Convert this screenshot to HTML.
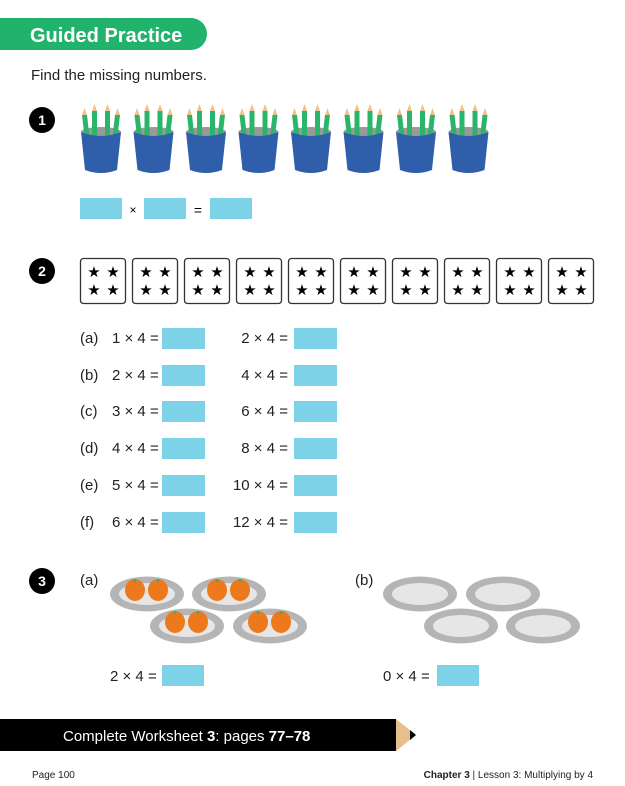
<!DOCTYPE html>
<html><head><meta charset="utf-8"><style>
body{margin:0;background:#fff;}
svg{display:block;font-family:"Liberation Sans",sans-serif;}
</style></head><body>
<svg width="625" height="786" viewBox="0 0 625 786" xmlns="http://www.w3.org/2000/svg">
<defs>
<g id="cup">
  <ellipse cx="21" cy="25" rx="20" ry="5" fill="#999"/>
  <g fill="#2bb56a">
    <polygon points="2,8 7,8 10,34 5,34"/>
    <polygon points="12,4 17,4 17,34 12,34"/>
    <polygon points="25,4 30,4 30,34 25,34"/>
    <polygon points="35,8 40,8 37,34 32,34"/>
  </g>
  <g fill="#f0c08a">
    <polygon points="2,8 7,8 4.5,1"/><polygon points="12,4 17,4 14.5,-3"/>
    <polygon points="25,4 30,4 27.5,-3"/><polygon points="35,8 40,8 37.5,1"/>
  </g>
  <path d="M1,25 Q21,33 41,25 L37,63 Q21,69 5,63 Z" fill="#2f5eab"/>
</g>
<g id="card">
  <rect x="0.5" y="0.5" width="45" height="45" rx="3" fill="#fff" stroke="#333" stroke-width="1.3"/>
  <g fill="#000" font-size="15" text-anchor="middle">
    <text x="14" y="19">★</text><text x="33" y="19">★</text>
    <text x="14" y="37">★</text><text x="33" y="37">★</text>
  </g>
</g>
<g id="plate">
  <ellipse cx="37" cy="17" rx="37" ry="17.5" fill="#b5b5b5"/>
  <ellipse cx="37" cy="17" rx="28" ry="11" fill="#e6e6e6"/>
</g>
<g id="oranges">
  <ellipse cx="25" cy="13" rx="10" ry="11" fill="#ec7a1c"/>
  <ellipse cx="48" cy="13" rx="10" ry="11" fill="#ec7a1c"/>
  <circle cx="25" cy="3.5" r="1.5" fill="#2bb56a"/><circle cx="48" cy="3.5" r="1.5" fill="#2bb56a"/>
</g>
</defs>

<path d="M0,18 H191 A16,16 0 0 1 191,50 H0 Z" fill="#21b36b"/>
<text x="30" y="42" fill="#fff" font-size="20" font-weight="bold">Guided Practice</text>
<text x="31" y="80" font-size="15" fill="#222">Find the missing numbers.</text>

<g fill="#000"><circle cx="42" cy="120" r="13"/><circle cx="42" cy="271" r="13"/><circle cx="42" cy="581" r="13"/></g>
<g fill="#fff" font-size="14" font-weight="bold" text-anchor="middle">
<text x="42" y="125">1</text><text x="42" y="276">2</text><text x="42" y="586">3</text></g>

<use href="#cup" x="80" y="107"/><use href="#cup" x="132.5" y="107"/><use href="#cup" x="185" y="107"/><use href="#cup" x="237.5" y="107"/>
<use href="#cup" x="290" y="107"/><use href="#cup" x="342.5" y="107"/><use href="#cup" x="395" y="107"/><use href="#cup" x="447.5" y="107"/>

<g fill="#7dd2e8">
<rect x="80" y="198" width="42" height="21"/><rect x="144" y="198" width="42" height="21"/><rect x="210" y="198" width="42" height="21"/>
</g>
<text x="133" y="214" font-size="12" text-anchor="middle">×</text>
<text x="198" y="215" font-size="14" text-anchor="middle">=</text>

<use href="#card" x="80" y="258"/><use href="#card" x="132" y="258"/><use href="#card" x="184" y="258"/><use href="#card" x="236" y="258"/><use href="#card" x="288" y="258"/>
<use href="#card" x="340" y="258"/><use href="#card" x="392" y="258"/><use href="#card" x="444" y="258"/><use href="#card" x="496" y="258"/><use href="#card" x="548" y="258"/>

<g font-size="15" fill="#222">
<text x="80" y="343">(a)</text><text x="112" y="343">1 × 4 =</text><text x="288" y="343" text-anchor="end">2 × 4 =</text>
<text x="80" y="380">(b)</text><text x="112" y="380">2 × 4 =</text><text x="288" y="380" text-anchor="end">4 × 4 =</text>
<text x="80" y="416">(c)</text><text x="112" y="416">3 × 4 =</text><text x="288" y="416" text-anchor="end">6 × 4 =</text>
<text x="80" y="453">(d)</text><text x="112" y="453">4 × 4 =</text><text x="288" y="453" text-anchor="end">8 × 4 =</text>
<text x="80" y="490">(e)</text><text x="112" y="490">5 × 4 =</text><text x="288" y="490" text-anchor="end">10 × 4 =</text>
<text x="80" y="527">(f)</text><text x="112" y="527">6 × 4 =</text><text x="288" y="527" text-anchor="end">12 × 4 =</text>
<text x="80" y="585">(a)</text><text x="355" y="585">(b)</text>
<text x="110" y="681">2 × 4 =</text><text x="383" y="681">0 × 4 =</text>
</g>
<g fill="#7dd2e8">
<rect x="162" y="328" width="43" height="21"/><rect x="294" y="328" width="43" height="21"/>
<rect x="162" y="365" width="43" height="21"/><rect x="294" y="365" width="43" height="21"/>
<rect x="162" y="401" width="43" height="21"/><rect x="294" y="401" width="43" height="21"/>
<rect x="162" y="438" width="43" height="21"/><rect x="294" y="438" width="43" height="21"/>
<rect x="162" y="475" width="43" height="21"/><rect x="294" y="475" width="43" height="21"/>
<rect x="162" y="512" width="43" height="21"/><rect x="294" y="512" width="43" height="21"/>
<rect x="162" y="665" width="42" height="21"/><rect x="437" y="665" width="42" height="21"/>
</g>

<use href="#plate" x="110" y="577"/><use href="#oranges" x="110" y="577"/>
<use href="#plate" x="192" y="577"/><use href="#oranges" x="192" y="577"/>
<use href="#plate" x="150" y="609"/><use href="#oranges" x="150" y="609"/>
<use href="#plate" x="233" y="609"/><use href="#oranges" x="233" y="609"/>
<use href="#plate" x="383" y="577"/><use href="#plate" x="466" y="577"/>
<use href="#plate" x="424" y="609"/><use href="#plate" x="506" y="609"/>

<rect x="0" y="719" width="396" height="32" fill="#000"/>
<polygon points="396,719 416,735 396,751" fill="#e8bf8a"/>
<polygon points="410,730 416,735 410,740" fill="#000"/>
<text x="63" y="741" font-size="15" fill="#fff">Complete Worksheet <tspan font-weight="bold">3</tspan>: pages <tspan font-weight="bold">77–78</tspan></text>

<text x="32" y="778" font-size="10" fill="#222">Page 100</text>
<text x="593" y="778" font-size="10" fill="#222" text-anchor="end"><tspan font-weight="bold">Chapter 3</tspan> | Lesson 3: Multiplying by 4</text>
</svg>
</body></html>
